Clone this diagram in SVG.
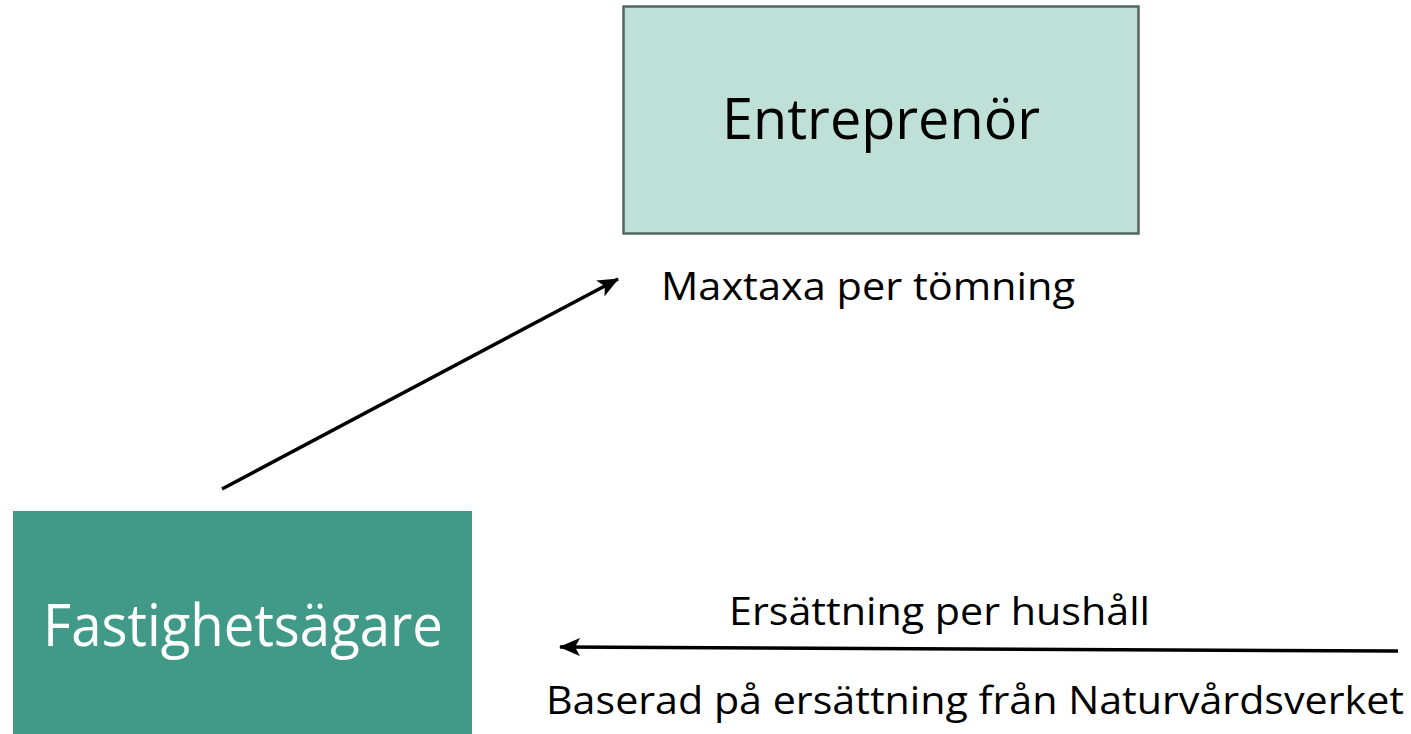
<svg xmlns="http://www.w3.org/2000/svg" width="1411" height="734" viewBox="0 0 1411 734">
<style>
.lbl{font-family:"Open Sans","Liberation Sans",sans-serif;fill:#000;}
.conn{stroke:#000;stroke-width:3.5;fill:none;marker-end:url(#ah);}
</style>
<defs>
<marker id="ah" markerUnits="userSpaceOnUse" markerWidth="22" markerHeight="18" viewBox="0 0 22 18" refX="20" refY="9" orient="auto">
<path d="M0,0 L21,9 L0,18 L5,9 Z" fill="#000"/>
</marker>
</defs>
<rect width="1411" height="734" fill="#fff"/>
<g id="connectors">
<line class="conn" x1="222" y1="489" x2="618" y2="279"/>
<line class="conn" x1="1398" y1="651" x2="560" y2="647"/>
</g>
<g id="entreprenor">
<rect x="623.5" y="6.5" width="515" height="227" fill="#bfe0d6" stroke="#56655f" stroke-width="2.5"/>
<text class="lbl" x="722" y="139" font-size="57" textLength="318" lengthAdjust="spacingAndGlyphs">Entreprenör</text>
</g>
<g id="fastighetsagare">
<rect x="13" y="511" width="459" height="223" fill="#419a88"/>
<text class="lbl" x="43" y="646" font-size="58" style="fill:#fff" textLength="400" lengthAdjust="spacingAndGlyphs">Fastighetsägare</text>
</g>
<g id="labels">
<text class="lbl" x="661" y="300" font-size="39" textLength="414" lengthAdjust="spacingAndGlyphs">Maxtaxa per tömning</text>
<text class="lbl" x="729" y="625" font-size="39" textLength="421" lengthAdjust="spacingAndGlyphs">Ersättning per hushåll</text>
<text class="lbl" x="546" y="714" font-size="39" textLength="858" lengthAdjust="spacingAndGlyphs">Baserad på ersättning från Naturvårdsverket</text>
</g>
</svg>
